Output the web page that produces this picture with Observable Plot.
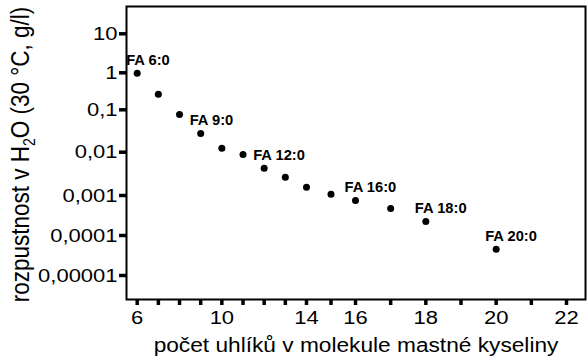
<!DOCTYPE html>
<html><head><meta charset="utf-8">
<script src="https://cdn.jsdelivr.net/npm/d3@7"></script>
<script src="https://cdn.jsdelivr.net/npm/@observablehq/plot@0.6"></script>
<style>body{margin:0;background:#fff} svg{display:block}</style>
</head><body><script>
const carbons = [6, 7, 8, 9, 10, 11, 12, 13, 14, 15, 16, 17, 18, 20];
const solubility = [0.97, 0.264, 0.0775, 0.0276, 0.0124, 0.00885, 0.00427, 0.00265, 0.00156, 0.00107, 0.00075, 0.000473, 0.000224, 0.0000455];
const labelCarbons = [6, 9, 12, 16, 18, 20];
const labelTexts = ["FA 6:0", "FA 9:0", "FA 12:0", "FA 16:0", "FA 18:0", "FA 20:0"];
const yTicks = [10, 1, 0.1, 0.01, 0.001, 0.0001, 0.00001];
const yTickLabels = ["10", "1", "0,1", "0,01", "0,001", "0,0001", "0,00001"];
const xTicks = [6, 7, 8, 9, 10, 11, 12, 13, 14, 15, 16, 17, 18, 19, 20, 21, 22];
const xTickLabels = [6, 10, 14, 16, 18, 20, 22];
const xTitle = "počet uhlíků v molekule mastné kyseliny";
const yTitle = "rozpustnost v H2O (30 °C, g/l)";

const points = carbons.map((c, i) => ({c, s: solubility[i]}));
const labels = labelCarbons.map((c, i) => ({c, s: solubility[carbons.indexOf(c)], t: labelTexts[i]}));

const plot = Plot.plot({
  width: 588, height: 364,
  marginLeft: 126, marginRight: 3, marginTop: 6, marginBottom: 65,
  style: {fontFamily: "'Liberation Sans', Arial, sans-serif", background: "#fff", color: "#000"},
  x: {type: "linear", domain: [6, 14, 16, 22], range: [136.7, 306, 355, 566]},
  y: {type: "log", domain: yTicks, range: [33.3, 72.3, 109.3, 151.7, 195, 235, 275]},
  marks: [
    Plot.frame({stroke: "#000", strokeWidth: 2}),
    Plot.axisY(yTicks, {anchor: "left", tickSize: 7, tickPadding: 2, strokeWidth: 3.5, fontSize: 18.8,
      tickFormat: d => yTickLabels[yTicks.indexOf(d)], label: null}),
    Plot.axisX(xTicks, {anchor: "bottom", tickSize: 6, tickPadding: 5, strokeWidth: 3.5, fontSize: 18.8,
      tickFormat: d => xTickLabels.includes(d) ? String(d) : "", label: null}),
    Plot.dot(points, {x: "c", y: "s", r: 3.5, fill: "#000"}),
    Plot.text(labels, {x: "c", y: "s", text: "t", textAnchor: "start", dx: -11, dy: -12.5, fontSize: 14, fontWeight: "bold"}),
    Plot.text([xTitle], {frameAnchor: "bottom", dy: 52, fontSize: 19.4}),
    Plot.text([yTitle], {frameAnchor: "left", textAnchor: "middle", rotate: -90, dx: -106, dy: 1.5, fontSize: 22.5})
  ]
});
document.body.append(plot);

function stretch(el, f) {
  const L = el.getComputedTextLength();
  if (L > 0) {
    el.setAttribute("textLength", (L * f).toFixed(2));
    el.setAttribute("lengthAdjust", "spacingAndGlyphs");
  }
}
const texts = [...plot.querySelectorAll("text")];
texts.forEach(el => {
  const g = el.closest("g[aria-label]");
  const al = g ? g.getAttribute("aria-label") : "";
  const t = el.textContent;
  if (al.includes("tick label")) stretch(el, 1.17);
  else if (labelTexts.includes(t)) stretch(el, 1.05);
  else if (t === xTitle) stretch(el, 1.17);
  else if (t === yTitle) {
    el.textContent = "";
    el.setAttribute("text-anchor", "middle");
    const ns = "http://www.w3.org/2000/svg";
    const parts = [["rozpustnost v H", 0, null], ["2", 5, 14], ["O (30 °C, g/l)", -5, null]];
    parts.forEach(([s, dy, fs]) => {
      const ts = document.createElementNS(ns, "tspan");
      ts.textContent = s;
      if (dy) ts.setAttribute("dy", dy);
      if (fs) ts.setAttribute("font-size", fs);
      el.appendChild(ts);
    });
    const tr = el.getAttribute("transform") || "";
    el.setAttribute("transform", tr + " scale(1,1.18)");
  }
});
</script></body></html>
